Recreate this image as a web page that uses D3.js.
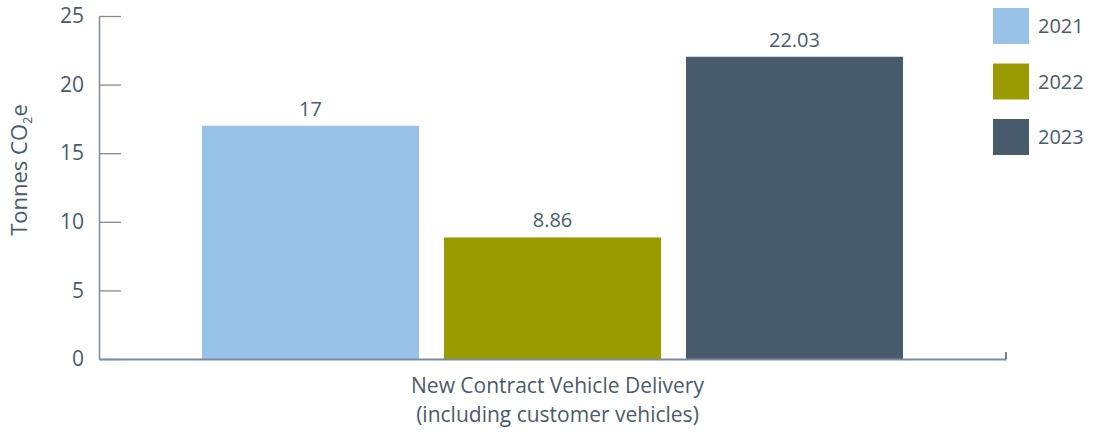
<!DOCTYPE html>
<html>
<head>
<meta charset="utf-8">
<script src="https://cdn.jsdelivr.net/npm/d3@7"></script>
<style>
  body { margin: 0; background: #fff; }
  text { font-family: "Open Sans", Lato, sans-serif; fill: #4a5b6b; }
</style>
</head>
<body>
<svg width="1094" height="432"></svg>
<script>
var categories = ["New Contract Vehicle Delivery"];
var categorySub = ["(including customer vehicles)"];
var years = ["2021", "2022", "2023"];
var values2021 = [17];
var values2022 = [8.86];
var values2023 = [22.03];
var valueLabels = [["17"], ["8.86"], ["22.03"]];
var yTicks = [0, 5, 10, 15, 20, 25];
var colors = ["#98c1e7", "#999b00", "#485b6c"];

var series = [values2021, values2022, values2023];

var svg = d3.select("svg");
var axisColor = "#7d8a97";

var y = d3.scaleLinear()
        .domain([0, 25])
        .range([359, 16]);

var x0 = d3.scaleBand()
        .domain(categories)
        .range([99, 1006])
        .paddingInner(0)
        .paddingOuter(0.1469);

var x1 = d3.scaleBand()
        .domain(years)
        .range([0, x0.bandwidth()])
        .paddingInner(25 / 242)
        .paddingOuter(0);

var color = d3.scaleOrdinal()
        .domain(years)
        .range(colors);

// bars
categories.forEach(function(cat, ci) {
    var g = svg.append("g")
            .attr("transform", "translate(" + x0(cat) + ",0)");
    years.forEach(function(yr, yi) {
        var v = series[yi][ci];
        g.append("rect")
            .attr("x", x1(yr))
            .attr("y", y(v))
            .attr("width", x1.bandwidth())
            .attr("height", y(0) - y(v))
            .attr("fill", color(yr));
        g.append("text")
            .attr("x", x1(yr) + x1.bandwidth() / 2)
            .attr("y", y(v) - 10)
            .attr("text-anchor", "middle")
            .style("font-size", "20px")
            .text(valueLabels[yi][ci]);
    });
});

// y axis
var yAxis = d3.axisLeft(y)
        .tickValues(yTicks)
        .tickSize(-22)
        .tickSizeOuter(0)
        .tickPadding(15);

var yg = svg.append("g")
        .attr("transform", "translate(99,0)")
        .call(yAxis);
yg.select(".domain").attr("stroke", axisColor).attr("stroke-width", 1.5);
yg.selectAll(".tick line").attr("stroke", axisColor).attr("stroke-width", 1.3);
yg.selectAll(".tick text")
        .style("font-family", "'Open Sans', Lato, sans-serif")
        .style("font-size", "21px")
        .attr("fill", "#4a5b6b");

// x axis baseline
var xAxis = d3.axisBottom(x0)
        .tickSize(0)
        .tickSizeOuter(0)
        .tickFormat("");
var xg = svg.append("g")
        .attr("transform", "translate(0," + y(0) + ")")
        .call(xAxis);
xg.select(".domain").attr("stroke", axisColor).attr("stroke-width", 2);
xg.append("line")
        .attr("x1", 1006).attr("x2", 1006)
        .attr("y1", -7).attr("y2", 0)
        .attr("stroke", "#485b6c")
        .attr("stroke-width", 1.5);

// category label (two lines in one text)
var cx = x0(categories[0]) + x0.bandwidth() / 2 + 5;
var cl = svg.append("text")
        .attr("x", cx)
        .attr("y", 393)
        .attr("text-anchor", "middle")
        .style("font-size", "21px");
cl.append("tspan").attr("x", cx).text(categories[0]);
cl.append("tspan").attr("x", cx).attr("dy", 29).text(categorySub[0]);

// y title
var yt = svg.append("text")
        .attr("transform", "translate(27,170) rotate(-90)")
        .attr("text-anchor", "middle")
        .style("font-size", "22px");
yt.append("tspan").text("Tonnes CO");
yt.append("tspan").attr("dy", 5).style("font-size", "13px").text("2");
yt.append("tspan").attr("dy", -5).text("e");

// legend
var legend = svg.append("g").attr("transform", "translate(993,8)");
years.forEach(function(yr, i) {
    var row = legend.append("g").attr("transform", "translate(0," + (i * 55.5) + ")");
    row.append("rect")
        .attr("width", 36)
        .attr("height", 36)
        .attr("fill", color(yr));
    row.append("text")
        .attr("x", 45)
        .attr("y", 25)
        .style("font-size", "20px")
        .text(yr);
});
</script>
</body>
</html>
